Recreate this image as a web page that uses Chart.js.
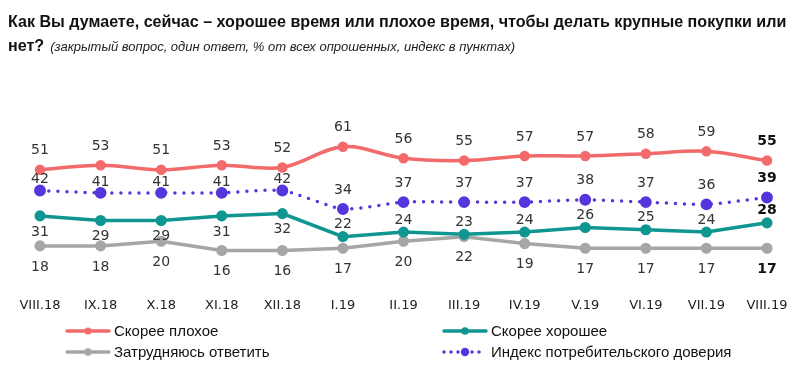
<!DOCTYPE html>
<html>
<head>
<meta charset="utf-8">
<script src="https://cdn.jsdelivr.net/npm/chart.js@4"></script>
<style>
  html, body { margin: 0; padding: 0; background: #fff; }
  #wrap { position: relative; width: 800px; height: 371px; overflow: hidden; }
  #chart { position: absolute; left: 0; top: 0; }
  .title { position: absolute; left: 8px; font-family: "Liberation Sans", Arial, sans-serif; font-weight: bold; font-size: 16.1px; color: #111; white-space: nowrap; }
  .title i { font-weight: normal; font-size: 13px; margin-left: 6px; color: #222; }
</style>
</head>
<body>
<div id="wrap">
  <canvas id="chart" width="800" height="371"></canvas>
  <div class="title" style="top:12px">Как Вы думаете, сейчас – хорошее время или плохое время, чтобы делать крупные покупки или</div>
  <div class="title" style="top:36px">нет?<i>(закрытый вопрос, один ответ, % от всех опрошенных, индекс в пунктах)</i></div>
</div>
<script>
const months = ["VIII.18", "IX.18", "X.18", "XI.18", "XII.18", "I.19", "II.19",
  "III.19", "IV.19", "V.19", "VI.19", "VII.19", "VIII.19"];

const badTime = [51, 53, 51, 53, 52, 61, 56, 55, 57, 57, 58, 59, 55];
const goodTime = [31, 29, 29, 31, 32, 22, 24, 23, 24, 26, 25, 24, 28];
const hardToSay = [18, 18, 20, 16, 16, 17, 20, 22, 19, 17, 17, 17, 17];
const confidenceIndex = [42, 41, 41, 41, 42, 34, 37, 37, 37, 38, 37, 36, 39];

const seriesNames = ["Скорее плохое", "Скорее хорошее", "Затрудняюсь ответить", "Индекс потребительского доверия"];

const RED = "#f36a6b";
const TEAL = "#109690";
const GRAY = "#a6a6a6";
const PURPLE = "#5636dc";

// labels: negative offset = above the point
const labelPlugin = {
  id: "pointLabels",
  afterDatasetsDraw(chart) {
    const ctx = chart.ctx;
    ctx.save();
    ctx.textAlign = "center";
    ctx.textBaseline = "middle";
    chart.data.datasets.forEach((ds, di) => {
      const meta = chart.getDatasetMeta(di);
      meta.data.forEach((pt, i) => {
        const last = i === ds.data.length - 1;
        ctx.font = (last ? "bold " : "") + "14px 'DejaVu Sans', Verdana, sans-serif";
        ctx.fillStyle = last ? "#111" : "#333";
        ctx.fillText(ds.data[i], pt.x, pt.y + ds.labelOffset(i));
      });
    });
    ctx.restore();
  }
};

// legend in two columns under the axis
const legendPlugin = {
  id: "twoColLegend",
  afterDraw(chart) {
    const ctx = chart.ctx;
    const spots = [
      { x: 65, y: 331 }, { x: 442, y: 331 },
      { x: 65, y: 352 }, { x: 442, y: 352 }
    ];
    ctx.save();
    chart.data.datasets.forEach((ds, di) => {
      const s = spots[di];
      ctx.strokeStyle = ds.borderColor;
      ctx.fillStyle = ds.borderColor;
      ctx.lineCap = "round";
      ctx.lineWidth = 3.5;
      ctx.setLineDash(ds.borderDash && ds.borderDash.length ? [0, 7] : []);
      ctx.beginPath();
      ctx.moveTo(s.x + 2, s.y);
      ctx.lineTo(s.x + 44, s.y);
      ctx.stroke();
      ctx.setLineDash([]);
      ctx.beginPath();
      ctx.arc(s.x + 23, s.y, ds.pointRadius, 0, Math.PI * 2);
      ctx.fill();
      ctx.font = "15px 'Liberation Sans', Arial, sans-serif";
      ctx.fillStyle = "#111";
      ctx.textBaseline = "middle";
      ctx.fillText(ds.label, s.x + 49, s.y + 1);
    });
    ctx.restore();
  }
};

new Chart(document.getElementById("chart"), {
  type: "line",
  data: {
    labels: months,
    datasets: [
      {
        label: seriesNames[0],
        data: badTime,
        borderColor: RED,
        backgroundColor: RED,
        borderWidth: 3.5,
        pointRadius: 3.5,
        tension: 0.35,
        labelOffset: () => -19
      },
      {
        label: seriesNames[1],
        data: goodTime,
        borderColor: TEAL,
        backgroundColor: TEAL,
        borderWidth: 3.5,
        pointRadius: 3.8,
        tension: 0,
        labelOffset: i => (i < 5 ? 16 : -12)
      },
      {
        label: seriesNames[2],
        data: hardToSay,
        borderColor: GRAY,
        backgroundColor: GRAY,
        borderWidth: 3.5,
        pointRadius: 3.8,
        tension: 0,
        labelOffset: () => 21
      },
      {
        label: seriesNames[3],
        data: confidenceIndex,
        borderColor: PURPLE,
        backgroundColor: PURPLE,
        borderWidth: 3.5,
        borderDash: [0, 9],
        borderCapStyle: "round",
        pointRadius: 4.2,
        tension: 0.2,
        labelOffset: i => (i < 5 ? -11 : -19)
      }
    ]
  },
  options: {
    responsive: false,
    animation: false,
    layout: {
      padding: { left: 40, right: 33, top: 126, bottom: 48 }
    },
    scales: {
      x: {
        offset: false,
        grid: { display: false, drawTicks: false },
        border: { display: false },
        ticks: {
          padding: 10,
          color: "#222",
          maxRotation: 0,
          autoSkip: false,
          font: { family: "'DejaVu Sans', Verdana, sans-serif", size: 13 }
        }
      },
      y: {
        display: false,
        min: 0,
        max: 70
      }
    },
    plugins: {
      legend: { display: false },
      tooltip: { enabled: false }
    }
  },
  plugins: [labelPlugin, legendPlugin]
});
</script>
</body>
</html>
